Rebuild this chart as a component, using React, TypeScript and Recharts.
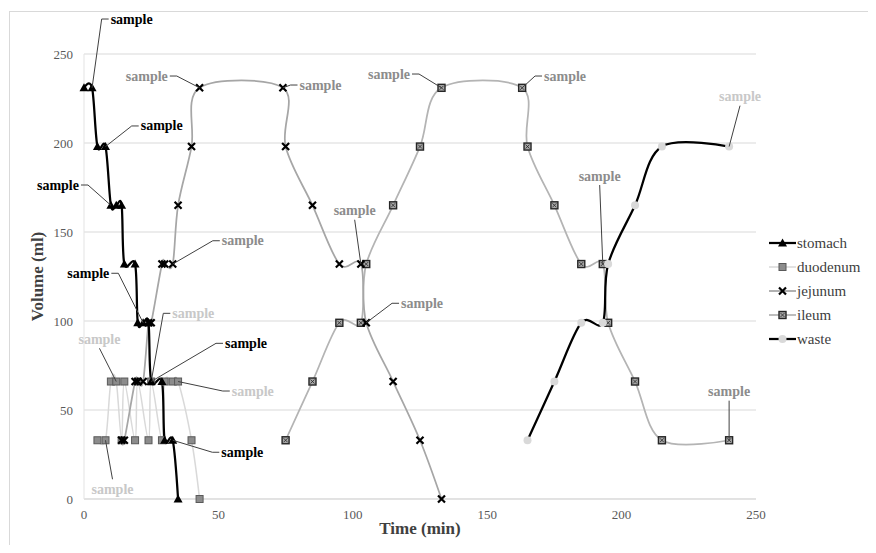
import React from 'react';
import { LineChart, Line, XAxis, YAxis, CartesianGrid, Legend } from 'recharts';

// ---- data: time (min) and volume (ml) per compartment ----
const stomachTime = [0, 3, 5, 8, 10, 12, 14, 15, 19, 20, 22, 24, 25, 29, 30, 33, 35];
const stomachVolume = [231, 231, 198, 198, 165, 165, 165, 132, 132, 99, 99, 99, 66, 66, 33, 33, 0];

const duodenumTime = [5, 8, 10, 12, 14, 15, 19, 20, 24, 25, 29, 30, 33, 35, 40, 43];
const duodenumVolume = [33, 33, 66, 66, 33, 66, 33, 66, 33, 66, 33, 66, 66, 66, 33, 0];

const jejunumTime = [14, 15, 19, 20, 22, 24, 25, 29, 30, 33, 35, 40, 43, 74, 75, 85, 95, 103, 105, 115, 125, 133];
const jejunumVolume = [33, 33, 66, 66, 66, 99, 99, 132, 132, 132, 165, 198, 231, 231, 198, 165, 132, 132, 99, 66, 33, 0];

const ileumTime = [75, 85, 95, 103, 105, 115, 125, 133, 163, 165, 175, 185, 193, 195, 205, 215, 240];
const ileumVolume = [33, 66, 99, 99, 132, 165, 198, 231, 231, 198, 165, 132, 132, 99, 66, 33, 33];

const wasteTime = [165, 175, 185, 193, 195, 205, 215, 240];
const wasteVolume = [33, 66, 99, 99, 132, 165, 198, 198];

const axisTicks = [0, 50, 100, 150, 200, 250];
const sampleText = 'sample';

// indices of the sampled points in each series
const stomachSamples = [1, 3, 4, 10, 12, 15];
const duodenumSamples = [3, 9, 13, 1];
const jejunumSamples = [12, 9, 13, 17, 18];
const ileumSamples = [7, 8, 12, 16];
const wasteSamples = [7];

type Side = 'left' | 'right' | 'top' | 'bottom';
type Placement = { dx: number; dy: number; side: Side };

// where each "sample" callout sits relative to its point
const stomachPlacement: Placement[] = [
  { dx: 39.6, dy: -68.8, side: 'left' },
  { dx: 56.2, dy: -20.6, side: 'left' },
  { dx: -52.9, dy: -20.3, side: 'right' },
  { dx: -54.8, dy: -49.5, side: 'right' },
  { dx: 94.8, dy: -38.2, side: 'left' },
  { dx: 69.6, dy: 12, side: 'left' },
];
const duodenumPlacement: Placement[] = [
  { dx: -16.8, dy: -42.2, side: 'bottom' },
  { dx: 42.1, dy: -68.2, side: 'left' },
  { dx: 74.7, dy: 9.5, side: 'left' },
  { dx: 7, dy: 49, side: 'top' },
];
const jejunumPlacement: Placement[] = [
  { dx: -52.8, dy: -11.8, side: 'right' },
  { dx: 70.1, dy: -23.3, side: 'left' },
  { dx: 37.6, dy: -2.8, side: 'left' },
  { dx: -6.2, dy: -53.3, side: 'bottom' },
  { dx: 55.8, dy: -19.5, side: 'left' },
];
const ileumPlacement: Placement[] = [
  { dx: -52.5, dy: -13.8, side: 'right' },
  { dx: 42.9, dy: -11.8, side: 'left' },
  { dx: -3.1, dy: -88, side: 'bottom' },
  { dx: 0, dy: -48.6, side: 'bottom' },
];
const wastePlacement: Placement[] = [{ dx: 10.9, dy: -49.9, side: 'bottom' }];

const FONT = '"Liberation Serif", "Times New Roman", serif';
const serif = { fontFamily: FONT };

const toPoints = (t: number[], v: number[]) => t.map((x, i) => ({ t: x, v: v[i] }));

// Smoothed line through every point (cardinal spline, tension 0)
function smoothCurve(context: any) {
  const k = 1 / 6;
  let x0 = NaN, y0 = NaN, x1 = NaN, y1 = NaN, x2 = NaN, y2 = NaN;
  let pt = 0;
  let line: number = NaN;
  const seg = (x: number, y: number) => {
    context.bezierCurveTo(
      x1 + k * (x2 - x0), y1 + k * (y2 - y0),
      x2 + k * (x1 - x), y2 + k * (y1 - y),
      x2, y2,
    );
  };
  return {
    areaStart() { line = 0; },
    areaEnd() { line = NaN; },
    lineStart() { x0 = x1 = x2 = y0 = y1 = y2 = NaN; pt = 0; },
    lineEnd() {
      if (pt === 2) context.lineTo(x2, y2);
      else if (pt === 3) seg(x1, y1);
      if (line || (line !== 0 && pt === 1)) context.closePath();
      line = 1 - line;
    },
    point(x: number, y: number) {
      x = +x; y = +y;
      if (pt === 0) {
        pt = 1;
        if (line) context.lineTo(x, y); else context.moveTo(x, y);
      } else if (pt === 1) {
        pt = 2; x1 = x; y1 = y;
      } else {
        pt = 3;
        seg(x, y);
      }
      x0 = x1; x1 = x2; x2 = x;
      y0 = y1; y1 = y2; y2 = y;
    },
  };
}

type MarkerKind = 'triangle' | 'square' | 'cross' | 'boxed' | 'circle';

function Marker({ kind, x, y }: { kind: MarkerKind; x: number; y: number }) {
  switch (kind) {
    case 'triangle':
      return <path d={`M${x},${y - 4.5} L${x + 4.5},${y + 3.5} L${x - 4.5},${y + 3.5} Z`} fill="#000" />;
    case 'square':
      return <rect x={x - 3.5} y={y - 3.5} width={7} height={7} fill="#8c8c8c" stroke="#595959" strokeWidth={1} />;
    case 'cross':
      return (
        <path
          d={`M${x - 3.5},${y - 3.5} L${x + 3.5},${y + 3.5} M${x + 3.5},${y - 3.5} L${x - 3.5},${y + 3.5}`}
          stroke="#000"
          strokeWidth={2.2}
        />
      );
    case 'boxed':
      return (
        <g>
          <rect x={x - 3.5} y={y - 3.5} width={7} height={7} fill="#a6a6a6" stroke="#262626" strokeWidth={1.4} />
          <path
            d={`M${x - 2},${y - 2} L${x + 2},${y + 2} M${x + 2},${y - 2} L${x - 2},${y + 2}`}
            stroke="#262626"
            strokeWidth={0.8}
          />
        </g>
      );
    default:
      return <circle cx={x} cy={y} r={4} fill="#d9d9d9" />;
  }
}

function Callout({ px, py, p, color }: { px: number; py: number; p: Placement; color: string }) {
  const cx = px + p.dx;
  const cy = py + p.dy;
  const half = 22;
  let d = '';
  if (p.side === 'left') {
    const lx = cx - half;
    d = `M${px},${py} L${lx - 8},${cy} L${lx - 1},${cy}`;
  } else if (p.side === 'right') {
    const rx = cx + half;
    d = `M${px},${py} L${rx + 8},${cy} L${rx + 1},${cy}`;
  } else if (p.side === 'bottom') {
    d = `M${px},${py} L${cx},${cy + 9}`;
  } else {
    d = `M${px},${py} L${cx},${cy - 10}`;
  }
  return (
    <g>
      <path d={d} stroke="#404040" strokeWidth={1} fill="none" />
      <text
        x={cx}
        y={cy}
        textAnchor="middle"
        dominantBaseline="central"
        style={serif}
        fontWeight="bold"
        fontSize={14}
        fill={color}
      >
        {sampleText}
      </text>
    </g>
  );
}

const makeDot = (kind: MarkerKind, samples: number[], placement: Placement[], color: string) =>
  (props: any) => {
    const { cx, cy, index } = props;
    const j = samples.indexOf(index);
    return (
      <g key={`dot-${kind}-${index}`}>
        <Marker kind={kind} x={cx} y={cy} />
        {j >= 0 && <Callout px={cx} py={cy} p={placement[j]} color={color} />}
      </g>
    );
  };

const legendRows: { name: string; stroke: string; width: number; kind: MarkerKind }[] = [
  { name: 'stomach', stroke: '#000', width: 2.25, kind: 'triangle' },
  { name: 'duodenum', stroke: '#d9d9d9', width: 1.5, kind: 'square' },
  { name: 'jejunum', stroke: '#a6a6a6', width: 1.75, kind: 'cross' },
  { name: 'ileum', stroke: '#b4b4b4', width: 1.75, kind: 'boxed' },
  { name: 'waste', stroke: '#000', width: 2.25, kind: 'circle' },
];

function LegendBox() {
  return (
    <svg width={111} height={122}>
      {legendRows.map((r, i) => {
        const y = 12 + i * 24;
        return (
          <g key={r.name}>
            <line x1={4} x2={31} y1={y} y2={y} stroke={r.stroke} strokeWidth={r.width} />
            <Marker kind={r.kind} x={17.5} y={y} />
            <text x={32} y={y} dominantBaseline="central" style={serif} fontSize={15} fill="#404040">
              {r.name}
            </text>
          </g>
        );
      })}
    </svg>
  );
}

const XTick = (props: any) => (
  <text x={props.x} y={props.y + 12} textAnchor="middle" style={serif} fontSize={13} fill="#595959">
    {props.payload.value}
  </text>
);

const YTick = (props: any) => (
  <text x={props.x - 3} y={props.y + 4.5} textAnchor="end" style={serif} fontSize={13} fill="#595959">
    {props.payload.value}
  </text>
);

const XTitle = (props: any) => {
  const vb = props.viewBox;
  return (
    <text x={vb.x + vb.width / 2} y={vb.y + 35} textAnchor="middle" style={serif} fontWeight="bold" fontSize={17} fill="#404040">
      Time (min)
    </text>
  );
};

const YTitle = (props: any) => {
  const vb = props.viewBox;
  const x = 37;
  const y = vb.y + vb.height / 2;
  return (
    <text
      x={x}
      y={y}
      transform={`rotate(-90, ${x}, ${y})`}
      textAnchor="middle"
      dominantBaseline="central"
      style={serif}
      fontWeight="bold"
      fontSize={17}
      fill="#404040"
    >
      Volume (ml)
    </text>
  );
};

export default function App() {
  const stomach = toPoints(stomachTime, stomachVolume);
  const duodenum = toPoints(duodenumTime, duodenumVolume);
  const jejunum = toPoints(jejunumTime, jejunumVolume);
  const ileum = toPoints(ileumTime, ileumVolume);
  const waste = toPoints(wasteTime, wasteVolume);

  return (
    <div style={{ position: 'relative', width: 876, height: 553, margin: -8, overflow: 'hidden', background: '#fff' }}>
      <div
        style={{
          position: 'absolute',
          left: 9,
          top: 11,
          right: -5,
          bottom: -5,
          borderTop: '1px solid #d9d9d9',
          borderLeft: '1px solid #d9d9d9',
        }}
      />
      <div style={{ position: 'absolute', left: 0, top: 0 }}>
        <LineChart width={876} height={553} margin={{ top: 54, right: 120, bottom: 24, left: 0 }}>
          <CartesianGrid vertical={false} stroke="#d9d9d9" strokeWidth={1} />
          <XAxis
            type="number"
            dataKey="t"
            domain={[0, 250]}
            ticks={axisTicks}
            height={30}
            stroke="#d9d9d9"
            tickLine={false}
            tick={<XTick />}
            label={<XTitle />}
          />
          <YAxis
            type="number"
            dataKey="v"
            domain={[0, 250]}
            ticks={axisTicks}
            width={84}
            stroke="#e3e3e3"
            tickLine={false}
            tick={<YTick />}
            label={<YTitle />}
          />
          <Legend
            layout="vertical"
            align="center"
            verticalAlign="middle"
            wrapperStyle={{ left: 765, top: 231, width: 111, height: 122 }}
            content={() => <LegendBox />}
          />
          <Line
            data={duodenum}
            dataKey="v"
            name="duodenum"
            type={smoothCurve as any}
            stroke="#d9d9d9"
            strokeWidth={1.5}
            dot={makeDot('square', duodenumSamples, duodenumPlacement, '#c8c8c8')}
            activeDot={false}
            isAnimationActive={false}
          />
          <Line
            data={ileum}
            dataKey="v"
            name="ileum"
            type={smoothCurve as any}
            stroke="#b4b4b4"
            strokeWidth={1.75}
            dot={makeDot('boxed', ileumSamples, ileumPlacement, '#8c8c8c')}
            activeDot={false}
            isAnimationActive={false}
          />
          <Line
            data={jejunum}
            dataKey="v"
            name="jejunum"
            type={smoothCurve as any}
            stroke="#a6a6a6"
            strokeWidth={1.75}
            dot={makeDot('cross', jejunumSamples, jejunumPlacement, '#8c8c8c')}
            activeDot={false}
            isAnimationActive={false}
          />
          <Line
            data={waste}
            dataKey="v"
            name="waste"
            type={smoothCurve as any}
            stroke="#000"
            strokeWidth={2.25}
            dot={makeDot('circle', wasteSamples, wastePlacement, '#c8c8c8')}
            activeDot={false}
            isAnimationActive={false}
          />
          <Line
            data={stomach}
            dataKey="v"
            name="stomach"
            type={smoothCurve as any}
            stroke="#000"
            strokeWidth={2.25}
            dot={makeDot('triangle', stomachSamples, stomachPlacement, '#000')}
            activeDot={false}
            isAnimationActive={false}
          />
        </LineChart>
      </div>
    </div>
  );
}
